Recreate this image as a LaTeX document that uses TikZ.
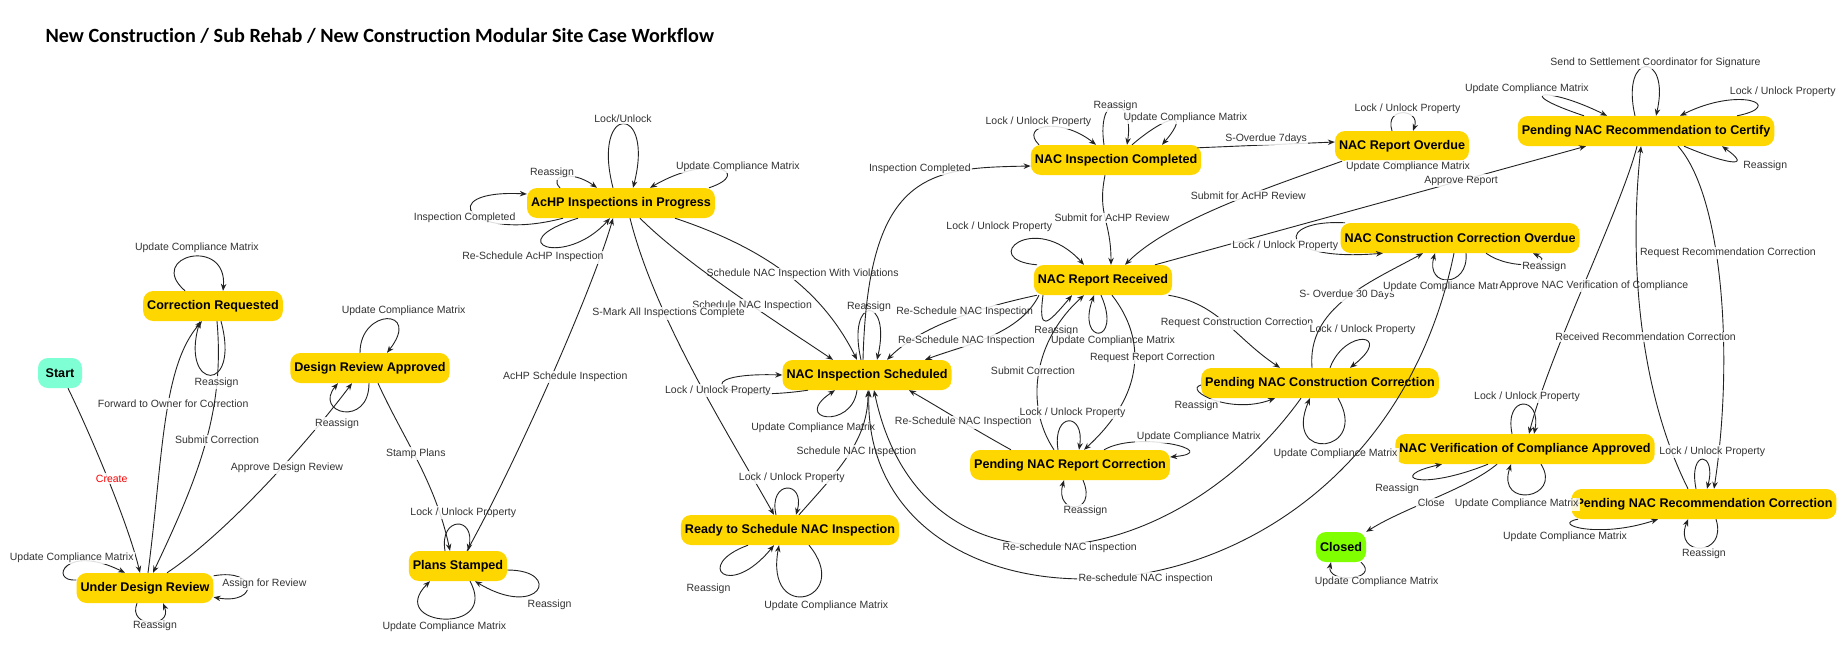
\documentclass[tikz,border=0pt]{standalone}
\usepackage{fontspec}
\setmainfont{Liberation Sans}
\newfontfamily\titlefamily{Carlito}[Ligatures=NoCommon]
\usetikzlibrary{arrows.meta}
\definecolor{stategold}{HTML}{FFD700}
\definecolor{startgreen}{HTML}{7FFFD4}
\definecolor{closedgreen}{HTML}{7FFF00}
\definecolor{linegray}{HTML}{222222}
\definecolor{labelgray}{HTML}{333333}

\begin{document}
\begin{tikzpicture}[x=1pt,y=-1pt,
  wfstate/.style={fill=stategold,rounded corners=10pt,minimum height=30pt,inner xsep=4pt,inner ysep=0pt,
    font=\fontsize{12.6}{14}\selectfont\bfseries},
  tlabel/.style={fill=white,fill opacity=0.85,text opacity=1,inner sep=1.5pt,text=labelgray,
    font=\fontsize{10.5}{12}\selectfont},
  flow/.style={draw=linegray,line width=0.9pt,-{Stealth[length=7pt,width=5.5pt]}}]
  \path[use as bounding box,fill=white] (0,0) rectangle (1847,657);

  % Title
  \node[anchor=west,font=\titlefamily\bfseries\fontsize{20.2}{24}\selectfont] (title) at (42,36)
    {New Construction / Sub Rehab / New Construction Modular Site Case Workflow};

  % Workflow states
  \node[wfstate,fill=startgreen,minimum width=44pt] (start) at (60,373) {Start};
  \node[wfstate] (udr) at (145,588) {Under Design Review};
  \node[wfstate] (cr) at (213,306) {Correction Requested};
  \node[wfstate] (dra) at (370,368) {Design Review Approved};
  \node[wfstate] (ps) at (458,566) {Plans Stamped};
  \node[wfstate] (achp) at (621,203) {AcHP Inspections in Progress};
  \node[wfstate] (nis) at (867,375) {NAC Inspection Scheduled};
  \node[wfstate] (rts) at (790,530) {Ready to Schedule NAC Inspection};
  \node[wfstate] (nic) at (1116,160) {NAC Inspection Completed};
  \node[wfstate] (nrr) at (1103,280) {NAC Report Received};
  \node[wfstate] (nro) at (1402,146) {NAC Report Overdue};
  \node[wfstate] (ncco) at (1460,238) {NAC Construction Correction Overdue};
  \node[wfstate] (pnrc) at (1646,131) {Pending NAC Recommendation to Certify};
  \node[wfstate] (pncc) at (1320,383) {Pending NAC Construction Correction};
  \node[wfstate] (pnrepc) at (1070,465) {Pending NAC Report Correction};
  \node[wfstate] (nvca) at (1525,449) {NAC Verification of Compliance Approved};
  \node[wfstate] (pnrecc) at (1704,504) {Pending NAC Recommendation Correction};
  \node[wfstate,fill=closedgreen] (closed) at (1341,547) {Closed};

  % Design review
  \draw[flow] ([xshift=8]start.south) .. controls +(22,45) and +(-12,-50) .. ([xshift=-5]udr.north)
    node[tlabel,text=red,pos=0.5,xshift=4]{Create};
  \draw[flow] ([yshift=8]udr.west) .. controls +(-28,2) and +(-60,-30) .. ([xshift=-20]udr.north)
    node[tlabel,pos=0.5,xshift=4,yshift=8]{Update Compliance Matrix};
  \draw[flow] ([yshift=-3]udr.north east) .. controls +(45,-8) and +(45,8) .. ([yshift=6]udr.south east)
    node[tlabel,pos=0.5,xshift=17,yshift=3]{Assign for Review};
  \draw[flow] ([xshift=-8]udr.south) .. controls +(-10,25) and +(10,25) .. ([xshift=18]udr.south)
    node[tlabel,pos=0.5,xshift=5,yshift=-4]{Reassign};
  \draw[flow] ([xshift=3]udr.north) .. controls +(15,-115) and +(-40,45) .. ([xshift=-11]cr.south)
    node[tlabel,pos=0.56,xshift=5,yshift=2]{Forward to Owner for Correction};
  \draw[flow] ([xshift=4]cr.south) .. controls +(8,90) and +(45,-95) .. ([xshift=8]udr.north)
    node[tlabel,pos=0.45,xshift=9,yshift=-7]{Submit Correction};
  \draw[flow] ([xshift=-28]cr.north) .. controls +(-40,-35) and +(5,-55) .. ([xshift=10]cr.north)
    node[tlabel,pos=0.5,xshift=6,yshift=9]{Update Compliance Matrix};
  \draw[flow] ([xshift=8]cr.south) .. controls +(20,74) and +(-20,69) .. ([xshift=-13]cr.south)
    node[tlabel,pos=0.5,xshift=6,yshift=-8]{Reassign};
  \draw[flow] ([xshift=22]udr.north) .. controls +(60,-40) and +(-45,60) .. ([xshift=-18]dra.south)
    node[tlabel,pos=0.56,xshift=10,yshift=5]{Approve Design Review};
  \draw[flow] ([xshift=-10]dra.north) .. controls +(0,-45) and +(35,-45) .. ([xshift=17]dra.north)
    node[tlabel,pos=0.5,xshift=17,yshift=8]{Update Compliance Matrix};
  \draw[flow] ([xshift=-1]dra.south) .. controls +(0,45) and +(-25,30) .. ([xshift=-32]dra.south)
    node[tlabel,pos=0.5,xshift=-7,yshift=-12]{Reassign};
  \draw[flow] ([xshift=8]dra.south) .. controls +(25,55) and +(-15,-70) .. ([xshift=-8]ps.north)
    node[tlabel,pos=0.45,xshift=2]{Stamp Plans};

  % Plans stamped
  \draw[flow] ([xshift=-13]ps.north) .. controls +(-6,-35) and +(8,-35) .. ([xshift=10]ps.north)
    node[tlabel,pos=0.5,xshift=6,yshift=12]{Lock / Unlock Property};
  \draw[flow] ([xshift=12]ps.south) .. controls +(30,55) and +(-45,45) .. ([xshift=-28]ps.south)
    node[tlabel,pos=0.5,yshift=-8]{Update Compliance Matrix};
  \draw[flow] ([yshift=-4]ps.east) .. controls +(56,0) and +(65,39) .. ([xshift=17]ps.south)
    node[tlabel,pos=0.5,xshift=13,yshift=-15]{Reassign};
  \draw[flow] ([xshift=9]ps.north) .. controls +(50,-90) and +(-20,70) .. ([xshift=-8]achp.south)
    node[tlabel,pos=0.5,xshift=14]{AcHP Schedule Inspection};

  % AcHP inspections
  \draw[flow] ([xshift=-8]achp.north) .. controls +(-22,-85) and +(22,-85) .. ([xshift=12]achp.north)
    node[tlabel,pos=0.5,yshift=5]{Lock/Unlock};
  \draw[flow] ([xshift=-61]achp.north) .. controls +(-12,-12) and +(-25,-18) .. ([xshift=-24]achp.north)
    node[tlabel,pos=0.3,xshift=-6,yshift=6]{Reassign};
  \draw[flow] ([xshift=88]achp.north) .. controls +(45,-15) and +(60,-35) .. ([xshift=29]achp.north)
    node[tlabel,pos=0.5,xshift=19,yshift=2]{Update Compliance Matrix};
  \draw[flow] ([xshift=-58]achp.south) .. controls +(-95,25) and +(-95,-5) .. ([yshift=9]achp.west)
    node[tlabel,pos=0.5,xshift=-9,yshift=-4]{Inspection Completed};
  \draw[flow] ([xshift=-43]achp.south) .. controls +(-80,25) and +(-45,50) .. ([xshift=-11]achp.south)
    node[tlabel,pos=0.45,xshift=-11,yshift=-12]{Re-Schedule AcHP Inspection};
  \draw[flow] ([xshift=54]achp.south) .. controls +(90,30) and +(-35,-70) .. ([xshift=-10]nis.north)
    node[tlabel,pos=0.5,xshift=16]{Schedule NAC Inspection With Violations};
  \draw[flow] ([xshift=19]achp.south) .. controls +(45,45) and +(-60,-40) .. ([xshift=-34]nis.north)
    node[tlabel,pos=0.6]{Schedule NAC Inspection};
  \draw[flow] ([xshift=9]achp.south) .. controls +(25,100) and +(-45,-80) .. ([xshift=-16]rts.north)
    node[tlabel,pos=0.3,xshift=5,yshift=-2]{S-Mark All Inspections Complete};

  % NAC inspection scheduled
  \draw[flow] ([xshift=-6]nis.north) .. controls +(-15,-65) and +(15,-65) .. ([xshift=10]nis.north)
    node[tlabel,pos=0.5,yshift=4]{Reassign};
  \draw[flow] ([xshift=-59]nis.south) .. controls +(-95,14) and +(-95,-3) .. (nis.west)
    node[tlabel,pos=0.5,xshift=-6,yshift=-4]{Lock / Unlock Property};
  \draw[flow] ([xshift=-10]nis.south) .. controls +(-5,40) and +(-45,30) .. ([xshift=-32]nis.south)
    node[tlabel,pos=0.5,xshift=-14,yshift=-11]{Update Compliance Matrix};
  \draw[flow] ([xshift=-4]nis.north) .. controls +(5,-190) and +(-100,2) .. ([yshift=-6]nic.west)
    node[tlabel,pos=0.6,xshift=-10,yshift=12]{Inspection Completed};

  % Ready to schedule
  \draw[flow] ([xshift=9]rts.north) .. controls +(40,-45) and +(0,50) .. ([xshift=1]nis.south)
    node[tlabel,pos=0.5,xshift=8,yshift=3]{Schedule NAC Inspection};
  \draw[flow] ([xshift=-14]rts.north) .. controls +(-8,-35) and +(10,-35) .. ([xshift=6]rts.north)
    node[tlabel,pos=0.5,xshift=5,yshift=11]{Lock / Unlock Property};
  \draw[flow] ([xshift=-42]rts.south) .. controls +(-55,20) and +(-45,55) .. ([xshift=-16]rts.south)
    node[tlabel,pos=0.5,xshift=-15,yshift=-15]{Reassign};
  \draw[flow] ([xshift=19]rts.south) .. controls +(45,55) and +(-15,80) .. ([xshift=-11]rts.south)
    node[tlabel,pos=0.5,xshift=21,yshift=-10]{Update Compliance Matrix};

  % NAC inspection completed
  \draw[flow] ([xshift=-77]nic.north) .. controls +(-20,-20) and +(-35,-28) .. ([xshift=-20]nic.north)
    node[tlabel,pos=0.45,xshift=-5,yshift=5]{Lock / Unlock Property};
  \draw[flow] ([xshift=-12]nic.north) .. controls +(-8,-55) and +(8,-50) .. ([xshift=11]nic.north)
    node[tlabel,pos=0.5]{Reassign};
  \draw[flow] ([xshift=16]nic.north) .. controls +(35,-30) and +(30,-35) .. ([xshift=46]nic.north)
    node[tlabel,pos=0.5,xshift=14,yshift=3]{Update Compliance Matrix};
  \draw[flow] ([xshift=-4,yshift=-3]nic.north east) -- ([yshift=4]nro.west)
    node[tlabel,pos=0.5,yshift=6]{S-Overdue 7days};
  \draw[flow] ([xshift=-11]nic.south) .. controls +(-8,40) and +(0,-45) .. ([xshift=8]nrr.north)
    node[tlabel,pos=0.5,xshift=7]{Submit for AcHP Review};

  % NAC report overdue
  \draw[flow] ([xshift=-60]nro.south) .. controls +(-70,25) and +(45,-45) .. ([xshift=22]nrr.north)
    node[tlabel,pos=0.4]{Submit for AcHP Review};
  \draw[flow] ([xshift=-10]nro.north) .. controls +(-8,-25) and +(8,-22) .. ([xshift=11]nro.north)
    node[tlabel,pos=0.5,xshift=5,yshift=4]{Lock / Unlock Property};
  \draw[flow] ([xshift=-6]nro.south) .. controls +(-6,10) and +(6,10) .. ([xshift=6]nro.south)
    node[tlabel,pos=0.5,xshift=6,yshift=2]{Update Compliance Matrix};

  % NAC report received
  \draw[flow] ([xshift=52]nrr.north) -- ([xshift=-60]pnrc.south)
    node[tlabel,pos=0.71]{Approve Report};
  \draw[flow] ([xshift=-66]nrr.north) .. controls +(-60,-5) and +(-50,-55) .. ([xshift=-19]nrr.north)
    node[tlabel,pos=0.5,xshift=-20,yshift=16]{Lock / Unlock Property};
  \draw[flow] ([xshift=-60]nrr.south) .. controls +(-5,38) and +(-25,30) .. ([xshift=-31]nrr.south)
    node[tlabel,pos=0.5,xshift=10,yshift=-10]{Reassign};
  \draw[flow] ([xshift=-2]nrr.south) .. controls +(22,50) and +(-18,50) .. ([xshift=-9]nrr.south)
    node[tlabel,pos=0.5,xshift=14,yshift=-8]{Update Compliance Matrix};
  \draw[flow] ([xshift=-66]nrr.south) .. controls +(-70,15) and +(30,-30) .. ([xshift=20]nis.north)
    node[tlabel,pos=0.4,xshift=2,yshift=4]{Re-Schedule NAC Inspection};
  \draw[flow] ([xshift=-64]nrr.south) .. controls +(-20,40) and +(40,-15) .. ([xshift=58]nis.north)
    node[tlabel,pos=0.5,xshift=-23,yshift=-4]{Re-Schedule NAC Inspection};
  \draw[flow] ([xshift=9]nrr.south) .. controls +(35,45) and +(60,-55) .. ([xshift=14]pnrepc.north)
    node[tlabel,pos=0.45,xshift=18,yshift=3]{Request Report Correction};
  \draw[flow] ([xshift=-4]nrr.south east) .. controls +(50,8) and +(-45,-30) .. ([xshift=-40]pncc.north)
    node[tlabel,pos=0.5,xshift=11]{Request Construction Correction};

  % Pending NAC report correction
  \draw[flow] ([xshift=-16]pnrepc.north) .. controls +(-30,-45) and +(-50,45) .. ([xshift=-19]nrr.south)
    node[tlabel,pos=0.5,xshift=-6,yshift=2]{Submit Correction};
  \draw[flow] ([xshift=-12]pnrepc.north) .. controls +(-6,-38) and +(6,-38) .. ([xshift=9]pnrepc.north)
    node[tlabel,pos=0.5,xshift=4,yshift=9]{Lock / Unlock Property};
  \draw[flow] ([xshift=34]pnrepc.north) .. controls +(35,-20) and +(55,-5) .. ([yshift=8]pnrepc.east)
    node[tlabel,pos=0.5,xshift=28,yshift=7]{Update Compliance Matrix};
  \draw[flow] ([xshift=13]pnrepc.south) .. controls +(15,35) and +(-10,35) .. ([xshift=-6]pnrepc.south)
    node[tlabel,pos=0.5,xshift=10,yshift=-4]{Reassign};
  \draw[flow] ([xshift=-59]pnrepc.north) .. controls +(-45,-25) and +(35,20) .. ([xshift=42]nis.south)
    node[tlabel,pos=0.5,xshift=7,yshift=-4]{Re-Schedule NAC Inspection};

  % Pending NAC construction correction
  \draw[flow] ([yshift=-2]pncc.west) .. controls +(-18,5) and +(-45,17) .. ([xshift=-45]pncc.south)
    node[tlabel,pos=0.5,xshift=-18,yshift=-6]{Reassign};
  \draw[flow] ([xshift=10]pncc.north) .. controls +(15,-40) and +(45,-35) .. ([xshift=30]pncc.north)
    node[tlabel,pos=0.5,yshift=10]{Lock / Unlock Property};
  \draw[flow] ([xshift=18]pncc.south) .. controls +(32,55) and +(-28,65) .. ([xshift=-10]pncc.south)
    node[tlabel,pos=0.5,xshift=10,yshift=-11]{Update Compliance Matrix};
  \draw[flow] ([xshift=-8]pncc.north) .. controls +(-5,-60) and +(-55,30) .. ([xshift=-37]ncco.south)
    node[tlabel,pos=0.5,xshift=2,yshift=4]{S- Overdue 30 Days};
  \draw[flow] ([xshift=-19]pncc.south) .. controls +(-131,182) and +(46,220) .. ([xshift=7]nis.south)
    node[tlabel,pos=0.5,xshift=14,yshift=-3]{Re-schedule NAC inspection};

  % NAC construction correction overdue
  \draw[flow] ([xshift=-115]ncco.north) .. controls +(-70,-4) and +(-108,9) .. ([xshift=-77]ncco.south)
    node[tlabel,pos=0.5,xshift=-12,yshift=-6]{Lock / Unlock Property};
  \draw[flow] ([xshift=6]ncco.south) .. controls +(3,35) and +(-10,35) .. ([xshift=-25]ncco.south)
    node[tlabel,pos=0.5,xshift=-3,yshift=-7]{Update Compliance Matrix};
  \draw[flow] ([xshift=26]ncco.south) .. controls +(25,18) and +(25,12) .. ([xshift=73]ncco.south)
    node[tlabel,pos=0.5,xshift=16,yshift=-2]{Reassign};
  \draw[flow] ([xshift=-6]ncco.south) .. controls +(-84,407) and +(-9,270) .. ([xshift=2]nis.south)
    node[tlabel,pos=0.5,xshift=19,yshift=-3]{Re-schedule NAC inspection};

  % Pending NAC recommendation to certify
  \draw[flow] ([xshift=-11]pnrc.north) .. controls +(-15,-65) and +(15,-65) .. ([xshift=10]pnrc.north)
    node[tlabel,pos=0.5,xshift=10,yshift=4]{Send to Settlement Coordinator for Signature};
  \draw[flow] ([xshift=-62]pnrc.north) .. controls +(-75,-25) and +(-60,-30) .. ([xshift=-39]pnrc.north)
    node[tlabel,pos=0.5,xshift=-18,yshift=6]{Update Compliance Matrix};
  \draw[flow] ([xshift=91]pnrc.north) .. controls +(50,-10) and +(60,-30) .. ([xshift=34]pnrc.north)
    node[tlabel,pos=0.5,xshift=33,yshift=9]{Lock / Unlock Property};
  \draw[flow] ([xshift=38]pnrc.south) .. controls +(35,15) and +(35,25) .. ([xshift=76]pnrc.south)
    node[tlabel,pos=0.5,xshift=36,yshift=-5]{Reassign};
  \draw[flow] ([xshift=-9]pnrc.south) .. controls +(-15,60) and +(20,-80) .. ([xshift=4]nvca.north)
    node[tlabel,pos=0.5,xshift=9,yshift=-3]{Approve NAC Verification of Compliance};
  \draw[flow] ([xshift=32]pnrc.south) .. controls +(45,50) and +(20,-130) .. ([xshift=10]pnrecc.north)
    node[tlabel,pos=0.42,xshift=11,yshift=5]{Request Recommendation Correction};
  \draw[flow] ([xshift=-16]pnrecc.north) .. controls +(-50,-100) and +(-12,110) .. ([xshift=-5]pnrc.south)
    node[tlabel,pos=0.45,xshift=2,yshift=2]{Received Recommendation Correction};

  % Pending NAC recommendation correction
  \draw[flow] ([xshift=-8]pnrecc.north) .. controls +(-8,-40) and +(10,-38) .. ([xshift=3]pnrecc.north)
    node[tlabel,pos=0.5,xshift=10,yshift=8]{Lock / Unlock Property};
  \draw[flow] ([xshift=-126]pnrecc.south) .. controls +(-28,5) and +(-60,20) .. ([xshift=-46]pnrecc.south)
    node[tlabel,pos=0.5,xshift=-20,yshift=-8]{Update Compliance Matrix};
  \draw[flow] ([xshift=12]pnrecc.south) .. controls +(12,38) and +(-15,38) .. ([xshift=-16]pnrecc.south)
    node[tlabel,pos=0.5,xshift=3,yshift=-6]{Reassign};

  % Verification approved and closed
  \draw[flow] ([xshift=-13]nvca.north) .. controls +(-8,-40) and +(8,-38) .. ([xshift=9]nvca.north)
    node[tlabel,pos=0.5,xshift=4,yshift=8]{Lock / Unlock Property};
  \draw[flow] ([xshift=-37]nvca.south) .. controls +(-70,28) and +(-55,12) .. ([xshift=-83]nvca.south)
    node[tlabel,pos=0.5,xshift=-21,yshift=-10]{Reassign};
  \draw[flow] ([xshift=16]nvca.south) .. controls +(22,35) and +(-15,45) .. ([xshift=-14]nvca.south)
    node[tlabel,pos=0.5,xshift=-12,yshift=-10]{Update Compliance Matrix};
  \draw[flow] ([xshift=-28]nvca.south) .. controls +(-30,25) and +(40,-25) .. (closed.north east)
    node[tlabel,pos=0.5,xshift=-4,yshift=-5]{Close};
  \draw[flow] ([xshift=20]closed.south) .. controls +(20,18) and +(-5,22) .. ([xshift=-10]closed.south)
    node[tlabel,pos=0.5,xshift=25,yshift=-5]{Update Compliance Matrix};
\end{tikzpicture}
\end{document}
